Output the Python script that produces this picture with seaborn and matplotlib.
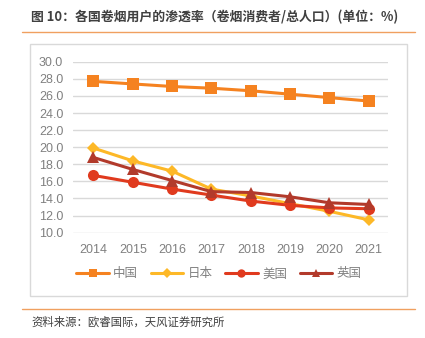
import matplotlib
matplotlib.use("Agg")
import matplotlib.pyplot as plt
import seaborn as sns
import pandas as pd
from matplotlib.patches import Rectangle
from matplotlib.lines import Line2D

years = [2014, 2015, 2016, 2017, 2018, 2019, 2020, 2021]
china = [27.7, 27.4, 27.1, 26.9, 26.6, 26.2, 25.8, 25.4]
japan = [19.9, 18.4, 17.2, 15.1, 14.3, 13.4, 12.5, 11.5]
usa = [16.7, 15.9, 15.1, 14.4, 13.7, 13.2, 12.9, 12.8]
uk = [18.8, 17.4, 16.1, 14.8, 14.7, 14.2, 13.5, 13.3]
names = ["中国", "日本", "美国", "英国"]
yticks = [10.0, 12.0, 14.0, 16.0, 18.0, 20.0, 22.0, 24.0, 26.0, 28.0, 30.0]

sns.set_style("white")
plt.rcParams['font.family'] = ['Noto Sans CJK SC', 'DejaVu Sans']

df = pd.DataFrame({
    "year": years * 4,
    "value": china + japan + usa + uk,
    "country": sum([[n] * len(years) for n in names], []),
})

colors = {"中国": "#F58220", "日本": "#FDB827", "美国": "#E03A1E", "英国": "#B23A2B"}
markers = {"中国": "s", "日本": "D", "美国": "o", "英国": "^"}
msizes = {"中国": 8, "日本": 6.5, "美国": 8, "英国": 8}

fig = plt.figure(figsize=(4.25, 3.38), dpi=100)
ax = fig.add_axes([73/425, 1-232.7/338, (388-73)/425, (232.7-61.7)/338])

for n in names:
    sns.lineplot(data=df[df.country == n], x="year", y="value", ax=ax,
                 color=colors[n], marker=markers[n], markersize=msizes[n],
                 markeredgewidth=0, linewidth=2.2, clip_on=False, legend=False)

ax.set_xlim(2013.48, 2021.49)
ax.set_ylim(10, 30)
ax.set_yticks(yticks)
ax.set_yticklabels([f"{v:.1f}" for v in yticks], family=['Liberation Sans'])
ax.set_xticks(years)
ax.set_xticklabels([str(y) for y in years], family=['Liberation Sans'])
ax.grid(axis="y", color="#D9D9D9", linewidth=1)
ax.set_axisbelow(True)
for s in ax.spines.values():
    s.set_visible(False)
ax.tick_params(axis="both", length=0, labelsize=9, labelcolor="#808080")
ax.tick_params(axis="y", pad=7)
ax.tick_params(axis="x", pad=8)
ax.set_xlabel("")
ax.set_ylabel("")

handles = [Line2D([0], [0], color=colors[n], marker=markers[n],
                  markersize=msizes[n] * 0.75, markeredgewidth=0, linewidth=2.2)
           for n in names]
fig.legend(handles, names, loc="center", bbox_to_anchor=(0.515, 1-274/338),
           ncol=4, frameon=False, fontsize=9, handlelength=2.6,
           columnspacing=1.0, handletextpad=0.35, labelcolor="#808080")

# chart border
fig.patches.append(Rectangle((30/425, 1-296/338), (407-30)/425, (296-44)/338,
                             transform=fig.transFigure, fill=False,
                             edgecolor="#D9D9D9", linewidth=1))
# orange rules
fig.add_artist(Line2D([22/425, 415/425], [1-32/338, 1-32/338],
                      transform=fig.transFigure, color="#F0A060", linewidth=1))
fig.add_artist(Line2D([22/425, 415/425], [1-309/338, 1-309/338],
                      transform=fig.transFigure, color="#F0A060", linewidth=1))

fig.text(31/425, 1-17/338, "图 10：各国卷烟用户的渗透率（卷烟消费者/总人口）(单位：%)",
         fontsize=9.3, fontweight="bold", color="#404040", va="center", ha="left")
fig.text(31/425, 1-322/338, "资料来源：欧睿国际，天风证券研究所",
         fontsize=8.2, color="#404040", va="center", ha="left")

fig.savefig("out.png", dpi=100)
